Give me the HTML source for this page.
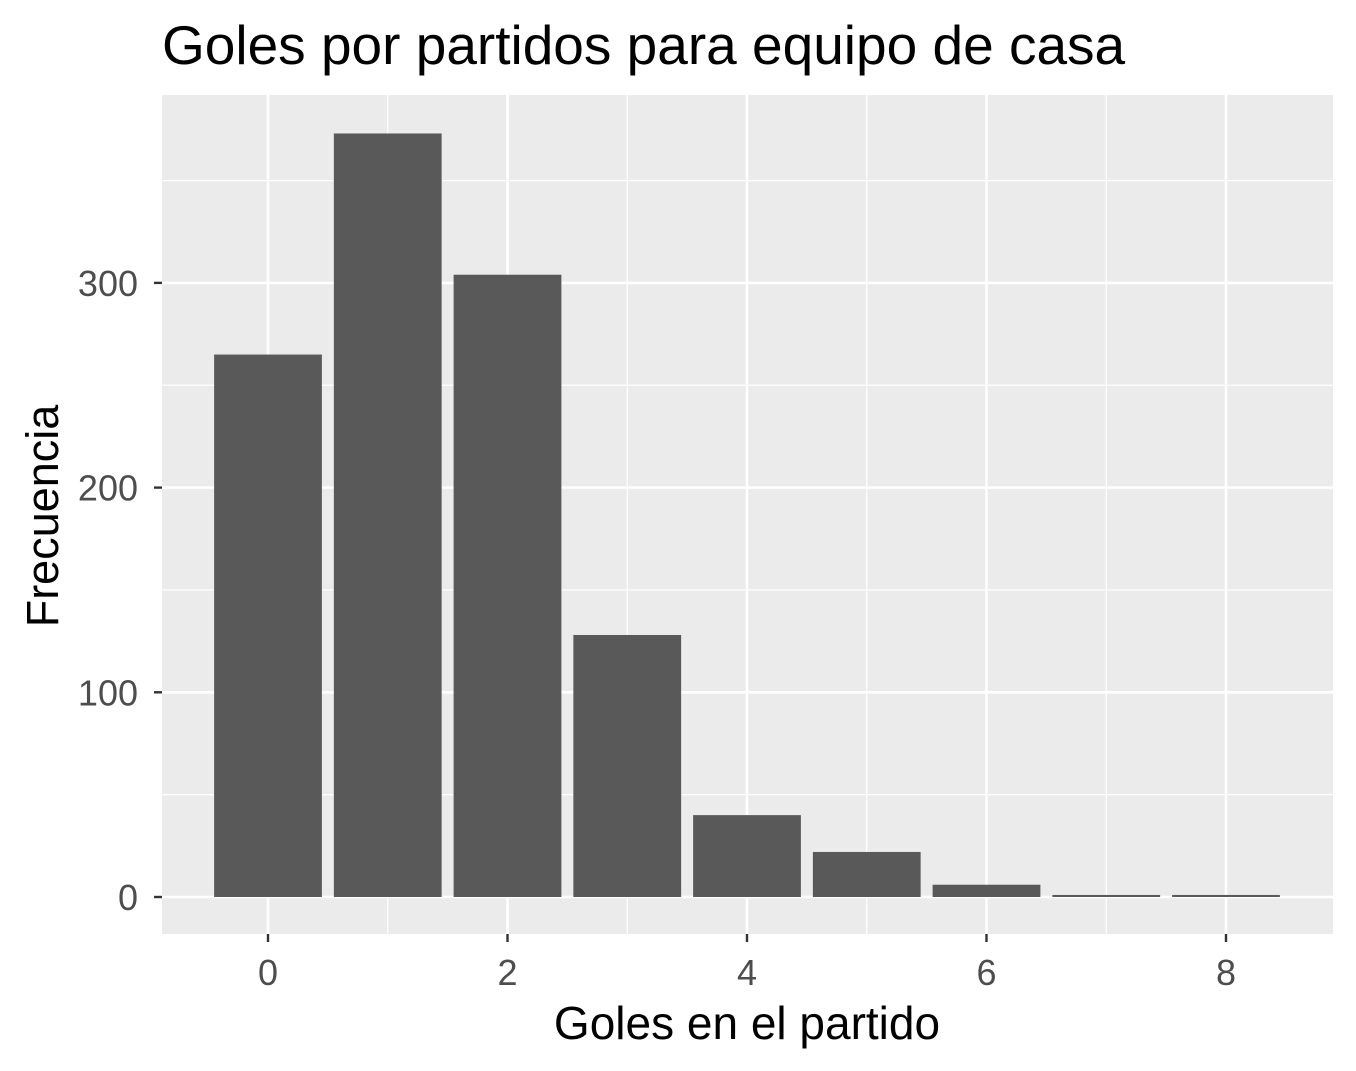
<!DOCTYPE html>
<html><head><meta charset="utf-8"><style>
html,body{margin:0;padding:0;background:#fff;}
svg{display:block;font-family:"Liberation Sans",Arial,sans-serif;}
</style></head><body>
<svg id="chart" width="1356" height="1071" viewBox="0 0 1356 1071">
<text x="162" y="64" font-size="55" fill="#000">Goles por partidos para equipo de casa</text>
<rect x="162" y="95" width="1171" height="839" fill="#ebebeb"/>
<g id="grid"></g>
<g id="bars"></g>
<g id="axes"></g>
<text x="747" y="1039" font-size="46" text-anchor="middle" fill="#000">Goles en el partido</text>
<text transform="translate(58,516) rotate(-90)" font-size="45" text-anchor="middle" fill="#000">Frecuencia</text>
</svg>
<script>
const categories = [0,1,2,3,4,5,6,7,8];
const counts = [265,373,304,128,40,22,6,1,1];
const xTicks = [0,2,4,6,8];
const yTicks = [0,100,200,300];
const xMinor = [1,3,5,7];
const yMinor = [50,150,250,350];

const NS = "http://www.w3.org/2000/svg";
const px0 = 162, px1 = 1333, py0 = 95, py1 = 934;
function xs(v){ return 268 + v * 119.75; }
function ys(v){ return 897 - v * 2.047; }
function mk(tag, attrs, parent){
  const e = document.createElementNS(NS, tag);
  for (const k in attrs) e.setAttribute(k, attrs[k]);
  parent.appendChild(e); return e;
}
const grid = document.getElementById('grid');
const bars = document.getElementById('bars');
const axes = document.getElementById('axes');
xMinor.forEach(v => {
  const l = mk('line', {x1: xs(v), x2: xs(v), y1: py0, y2: py1, stroke: '#fff', 'stroke-width': 1.2}, grid);
  
  
});
yMinor.forEach(v => {
  const l = mk('line', {x1: px0, x2: px1, y1: ys(v), y2: ys(v), stroke: '#fff', 'stroke-width': 1.2}, grid);
  
  
});
xTicks.forEach(v => {
  const l = mk('line', {x1: xs(v), x2: xs(v), y1: py0, y2: py1, stroke: '#fff', 'stroke-width': 2.6}, grid);
  
  
  const t = mk('line', {x1: xs(v), x2: xs(v), y1: py1, y2: py1 + 8, stroke: '#333', 'stroke-width': 2.4}, axes);
  
  
  const tx = mk('text', {x: xs(v), y: 985, 'font-size': 36, fill: '#4d4d4d', 'text-anchor': 'middle'}, axes);
  tx.textContent = v;
  
  
});
yTicks.forEach(v => {
  const l = mk('line', {x1: px0, x2: px1, y1: ys(v), y2: ys(v), stroke: '#fff', 'stroke-width': 2.6}, grid);
  
  
  const t = mk('line', {x1: px0 - 8, x2: px0, y1: ys(v), y2: ys(v), stroke: '#333', 'stroke-width': 2.4}, axes);
  
  
  const tx = mk('text', {x: px0 - 24, y: ys(v) + 13, 'font-size': 36, fill: '#4d4d4d', 'text-anchor': 'end'}, axes);
  tx.textContent = v;
  
  
});
categories.forEach((c, i) => {
  const w = 0.9 * 119.75;
  const top = ys(counts[i]);
  const r = mk('rect', {x: xs(c) - w / 2, y: top, width: w, height: Math.max(ys(0) - top, 0), fill: '#595959'}, bars);
  
  
});
</script>
</body></html>
